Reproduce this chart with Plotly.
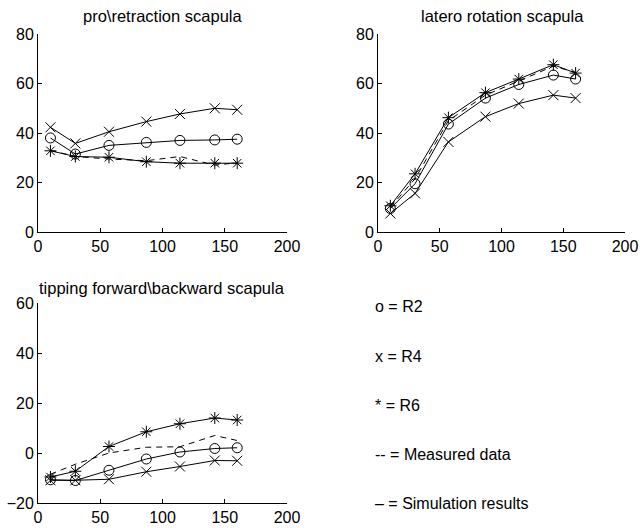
import plotly.graph_objects as go

# ---------------- data ----------------
angles = [10, 30, 57, 87, 114, 142, 160]

# pro\retraction scapula
pr_R2 = [38, 31.5, 35, 36.2, 37, 37.2, 37.5]
pr_R4 = [42.3, 35.8, 40.5, 44.6, 47.7, 50, 49.4]
pr_R6 = [32.8, 30.5, 30.2, 28.4, 27.8, 27.8, 27.8]
pr_meas = [33, 30.5, 29.5, 28.8, 30.5, 27, 28]

# latero rotation scapula
lr_R2 = [9.5, 19.5, 43.6, 54.1, 59.6, 63.4, 61.8]
lr_R4 = [7.5, 15.6, 36.4, 46.6, 51.9, 55.3, 54.1]
lr_R6 = [10.6, 23.5, 46.2, 56.3, 61.8, 67.6, 64.2]
lr_meas = [10, 21.5, 45, 55.3, 61, 67, 64.5]

# tipping forward\backward scapula
tf_R2 = [-10.7, -11, -6.9, -2.4, 0.4, 1.8, 2.1]
tf_R4 = [-10.9, -10.9, -10.5, -7.5, -5.4, -3, -3.1]
tf_R6 = [-9.6, -7.3, 2.6, 8.5, 11.7, 14, 13.2]
tf_meas = [-8.5, -4.5, 0, 2.3, 2.5, 7, 5]

titles = ["pro\\retraction scapula", "latero rotation scapula",
          "tipping forward\\backward scapula"]
legend_lines = ["o = R2", "x = R4", "* = R6", "-- = Measured data",
                "\u2013 = Simulation results"]

xticks = [0, 50, 100, 150, 200]

FONT = "Liberation Sans, Arial, sans-serif"

fig = go.Figure()

panels = [
    ("x", "y", pr_R2, pr_R4, pr_R6, pr_meas),
    ("x2", "y2", lr_R2, lr_R4, lr_R6, lr_meas),
    ("x3", "y3", tf_R2, tf_R4, tf_R6, tf_meas),
]

for xa, ya, r2, r4, r6, meas in panels:
    fig.add_trace(go.Scatter(x=angles, y=meas, xaxis=xa, yaxis=ya, mode="lines",
                             line=dict(color="black", width=1, dash="6px,5px"),
                             showlegend=False))
    for vals, sym in ((r2, "circle-open"), (r4, "x-thin-open"), (r6, "asterisk-open")):
        fig.add_trace(go.Scatter(x=angles, y=vals, xaxis=xa, yaxis=ya,
                                 mode="lines+markers",
                                 line=dict(color="black", width=1),
                                 marker=dict(symbol=sym, size=10, color="black",
                                             line=dict(color="black", width=1)),
                                 showlegend=False))

W, H = 640, 528
def dom(a, b, total, flip=False):
    if flip:
        return [1 - b / total, 1 - a / total]
    return [a / total, b / total]

axis_common = dict(showline=True, linecolor="black", linewidth=1, ticks="inside",
                   ticklen=4, tickcolor="black", showgrid=False, zeroline=False,
                   automargin=False,
                   tickfont=dict(family=FONT, size=16, color="black"), mirror=False)

fig.update_layout(
    width=W, height=H,
    margin=dict(l=0, r=0, t=0, b=0),
    paper_bgcolor="white", plot_bgcolor="white",
    font=dict(family=FONT, size=15, color="black"),
    xaxis=dict(domain=dom(38, 287, W), range=[0, 200], tickvals=xticks,
               anchor="y", **axis_common),
    yaxis=dict(domain=dom(34, 232, H, True), range=[0, 80], tickvals=[0, 20, 40, 60, 80],
               anchor="x", **axis_common),
    xaxis2=dict(domain=dom(378, 625, W), range=[0, 200], tickvals=xticks,
                anchor="y2", **axis_common),
    yaxis2=dict(domain=dom(34, 232, H, True), range=[0, 80], tickvals=[0, 20, 40, 60, 80],
                anchor="x2", **axis_common),
    xaxis3=dict(domain=dom(38, 287, W), range=[0, 200], tickvals=xticks,
                anchor="y3", **axis_common),
    yaxis3=dict(domain=dom(303, 503, H, True), range=[-20, 60], tickvals=[-20, 0, 20, 40, 60],
                anchor="x3", **axis_common),
)

annotations = []
title_pos = [(162, 16), (502, 16), (162, 288)]
for t, (px, py) in zip(titles, title_pos):
    annotations.append(dict(text=t, x=px / W, y=1 - py / H, xref="paper", yref="paper",
                            xanchor="center", yanchor="middle", showarrow=False,
                            font=dict(family=FONT, size=16.5, color="black")))
leg_y = [306, 356, 405, 454, 503]
for t, py in zip(legend_lines, leg_y):
    annotations.append(dict(text=t, x=373 / W, y=1 - py / H, xref="paper", yref="paper",
                            xanchor="left", yanchor="middle", showarrow=False,
                            font=dict(family=FONT, size=16, color="black")))
fig.update_layout(annotations=annotations)

fig.write_html("out.html", config={"displayModeBar": False},
               post_script="document.body.style.margin='0';document.body.style.overflow='hidden';")
